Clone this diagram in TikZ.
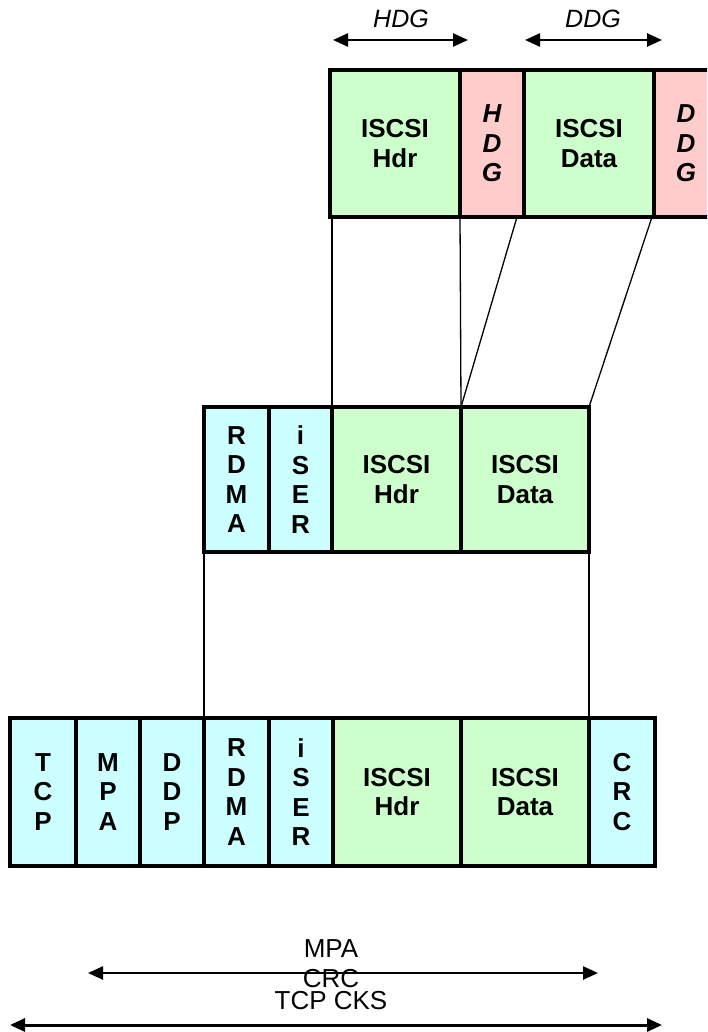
\documentclass[tikz,border=0pt]{standalone}
\usepackage{fontspec}
\setmainfont{Liberation Sans}
\usepackage{tikz}
\usetikzlibrary{arrows.meta,calc}
\usepackage{xcolor}

\definecolor{hdrgreen}{HTML}{CCFFCC}
\definecolor{dgpink}{HTML}{FFCCCC}
\definecolor{protocyan}{HTML}{CCFFFF}

\tikzset{
  cell/.style={draw,line width=4.5pt,inner sep=0pt,outer sep=0pt,align=center,
    font=\bfseries\fontsize{26}{29.5}\selectfont},
  toprow/.style={cell,minimum height=147pt},
  midrow/.style={cell,minimum height=145pt},
  botrow/.style={cell,minimum height=148pt},
  link/.style={line width=1.3pt},
  span/.style={{Triangle[length=15pt,width=13pt]}-{Triangle[length=15pt,width=13pt]}},
}

\begin{document}
\begin{tikzpicture}[x=1pt,y=-1pt]
  \clip (0,0) rectangle (707,1032);
  \fill[white] (0,0) rectangle (707,1032);

  % digests over header and data
  \node[font=\itshape\fontsize{25}{28}\selectfont] (lhdg) at (401,19) {HDG};
  \node[font=\itshape\fontsize{25}{28}\selectfont] (lddg) at (593,19) {DDG};
  \draw[span,line width=2.5pt] (333,40) -- (468,40);
  \draw[span,line width=2.5pt] (525,40) -- (662,40);

  % iSCSI PDU
  \node[toprow,fill=hdrgreen,minimum width=130pt] (thdr) at (395,143.5) {ISCSI\\Hdr};
  \node[toprow,fill=dgpink,minimum width=64pt] (thdg) at (492,143.5) {\itshape H\\\itshape D\\\itshape G};
  \node[toprow,fill=hdrgreen,minimum width=130pt] (tdata) at (589,143.5) {ISCSI\\Data};
  \node[toprow,fill=dgpink,minimum width=64pt] (tddg) at (686,143.5) {\itshape D\\\itshape D\\\itshape G};

  % iSER message
  \node[midrow,fill=protocyan,minimum width=65pt] (mrdma) at (236.5,479.5) {R\\D\\M\\A};
  \node[midrow,fill=protocyan,minimum width=63pt] (miser) at (300.5,479.5) {i\\S\\E\\R};
  \node[midrow,fill=hdrgreen,minimum width=129pt] (mhdr) at (396.5,479.5) {ISCSI\\Hdr};
  \node[midrow,fill=hdrgreen,minimum width=128pt] (mdata) at (525,479.5) {ISCSI\\Data};

  % TCP segment
  \node[botrow,fill=protocyan,minimum width=66pt] (btcp) at (43,792) {T\\C\\P};
  \node[botrow,fill=protocyan,minimum width=64pt] (bmpa) at (108,792) {M\\P\\A};
  \node[botrow,fill=protocyan,minimum width=64pt] (bddp) at (172,792) {D\\D\\P};
  \node[botrow,fill=protocyan,minimum width=65pt] (brdma) at (236.5,792) {R\\D\\M\\A};
  \node[botrow,fill=protocyan,minimum width=64pt] (biser) at (301,792) {i\\S\\E\\R};
  \node[botrow,fill=hdrgreen,minimum width=128pt] (bhdr) at (397,792) {ISCSI\\Hdr};
  \node[botrow,fill=hdrgreen,minimum width=128pt] (bdata) at (525,792) {ISCSI\\Data};
  \node[botrow,fill=protocyan,minimum width=66pt] (bcrc) at (622,792) {C\\R\\C};

  % mapping between layers
  \draw[link] (mhdr.north west |- thdr.south) -- (mhdr.north west);
  \draw[link] (thdr.south east) -- (mhdr.north east);
  \draw[link] ($(thdg.south east)+(-7,0)$) -- (mhdr.north east);
  \draw[link] ($(tdata.south east)+(-2,0)$) -- (mdata.north east);
  \draw[link] (mrdma.south west) -- (brdma.north west);
  \draw[link] (mdata.south east) -- (bdata.north east);

  % checksum coverage
  \coordinate (mpaL) at (88,973);
  \coordinate (mpaR) at (598,973);
  \coordinate (tcpL) at (10,1025);
  \coordinate (tcpR) at (662,1025);
  \node[font=\fontsize{26}{30}\selectfont,align=center] (lmpa) at (331,964) {MPA\\CRC};
  \node[font=\fontsize{26}{30}\selectfont] (ltcp) at (331,1001) {TCP CKS};
  \draw[span,line width=2.5pt] (mpaL) -- (mpaR);
  \draw[span,line width=3pt] (tcpL) -- (tcpR);
\end{tikzpicture}
\end{document}
